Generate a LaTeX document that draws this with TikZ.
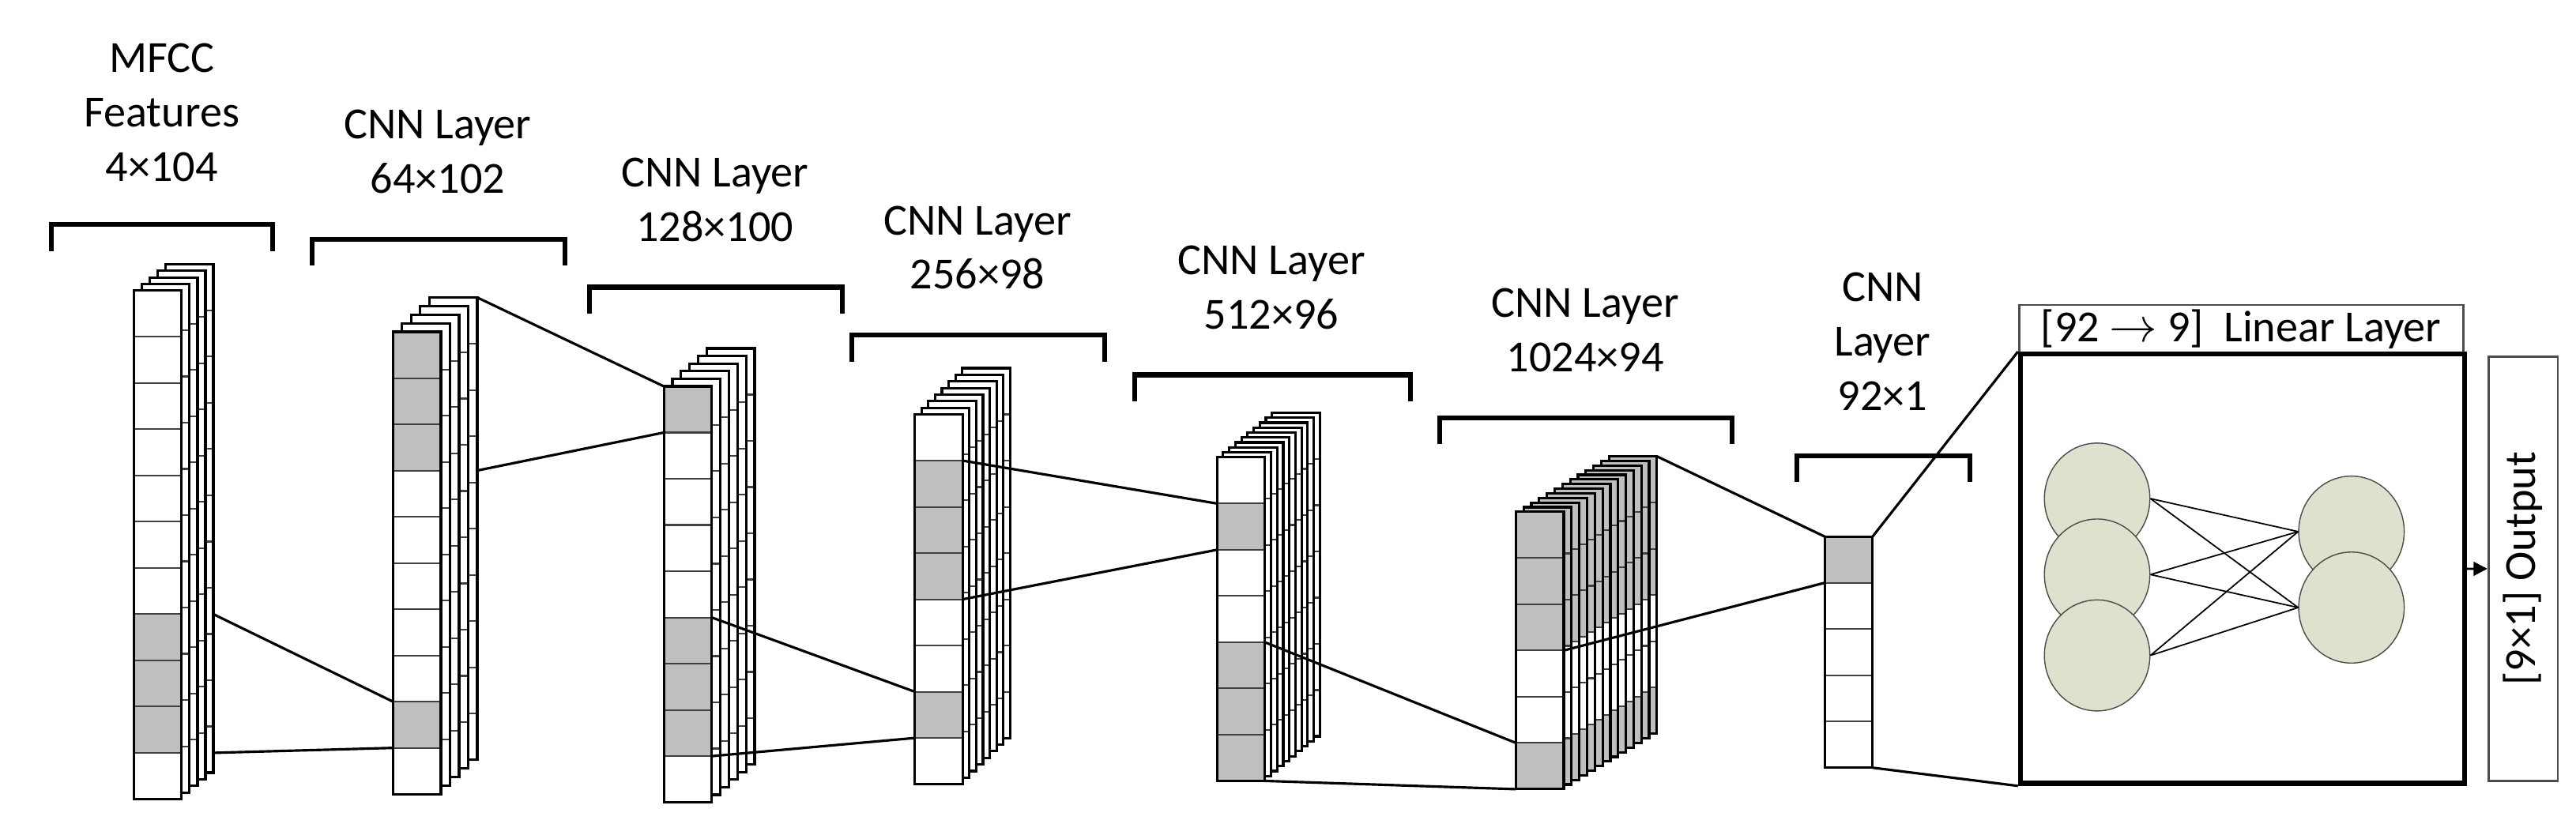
\documentclass[tikz,border=0pt]{standalone}
\usepackage{fontspec}
\setmainfont{Carlito}
\usetikzlibrary{arrows.meta}
\tikzset{
  lab/.style={align=center,font=\fontsize{16}{19.6}\selectfont,inner sep=0pt},
  brk/.style={line width=1.8pt},
  conn/.style={line width=0.9pt},
  sheet/.style={draw,line width=0.9pt},
  cellline/.style={draw=black!75,line width=0.6pt},
  neuron/.style={ellipse,draw=black!70,fill={rgb,255:red,221;green,225;blue,205},minimum width=38,minimum height=40,inner sep=0pt},
}
\usetikzlibrary{shapes.geometric}
% #1 name, #2 x, #3 ytop, #4 ncells, #5 nback, #6 dx, #7 dy, #8 gray list, #9 backgray
\newcommand\mylayer[9]{%
  \foreach \k in {#5,...,0}{%
    \pgfmathsetmacro\ox{#2+\k*#6}%
    \pgfmathsetmacro\oy{#3-\k*#7}%
    \pgfmathtruncatemacro\dogray{(\k==0)||(#9==1)}%
    \fill[white] (\ox,\oy) rectangle ++(29,#4*28);
    \ifnum\dogray=1
      \foreach \g in {#8}{\fill[gray!50] (\ox,\oy+\g*28-28) rectangle ++(29,28);}%
    \fi
    \foreach \i in {1,...,#4}{\draw[cellline] (\ox,\oy+\i*28) -- ++(29,0);}%
    \draw[sheet] (\ox,\oy) rectangle ++(29,#4*28);
  }%
  \pgfmathsetmacro\bx{#2+29+#5*#6}%
  \pgfmathsetmacro\by{#3-#5*#7}%
  \coordinate (#1-BT) at (\bx,\by);
  \foreach \i in {0,...,#4}{%
    \coordinate (#1-L\i) at (#2,#3+\i*28);
    \coordinate (#1-R\i) at (#2+29,#3+\i*28);
    \coordinate (#1-BR\i) at (\bx,#3+\i*28);
  }%
}
\newcommand\mybracket[4]{% name, x1, x2, y
  \draw[brk] (#2,#4+16) -- (#2,#4) -- (#3,#4) coordinate (#1) -- (#3,#4+16);}
\begin{document}
\begin{tikzpicture}[x=0.0209cm,y=-0.0209cm]
\useasboundingbox (0,0) rectangle (1560,499);
% labels
\node[lab] (t1) at (98,68) {MFCC\\Features\\4×104};
\node[lab] (t2) at (265,92) {CNN Layer\\64×102};
\node[lab] (t3) at (433,121) {CNN Layer\\128×100};
\node[lab] (t4) at (592,150) {CNN Layer\\256×98};
\node[lab] (t5) at (770,174) {CNN Layer\\512×96};
\node[lab] (t6) at (960,200) {CNN Layer\\1024×94};
\node[lab] (t7) at (1140,207) {CNN\\Layer\\92×1};
% brackets
\mybracket{b1}{31}{165}{136}
\mybracket{b2}{189}{342}{145}
\mybracket{b3}{357}{510}{174}
\mybracket{b4}{516}{669}{203}
\mybracket{b5}{687}{854}{227}
\mybracket{b6}{872}{1049}{253}
\mybracket{b7}{1088}{1193}{276}
% layers
\mylayer{A}{81}{176}{11}{4}{4.8}{4}{8,9,10}{0}
\mylayer{B}{238}{201}{10}{4}{5.5}{5.2}{1,2,3,9}{0}
\mylayer{C}{402}{234}{9}{5}{5.2}{4.6}{1,6,7,8}{0}
\mylayer{D}{554}{251}{8}{7}{4.1}{4}{2,3,4,7}{0}
\mylayer{E}{737}{277}{7}{9}{3.7}{3}{2,5,6,7}{0}
\mylayer{F}{918}{310}{6}{12}{4.7}{2.8}{1,2,3,6}{1}
\mylayer{G}{1105}{325}{5}{0}{0}{0}{1}{0}
% connectors between layers
\draw[conn] (A-BR7) -- (B-L8);
\draw[conn] (A-BR10) -- (B-L9);
\draw[conn] (B-BT) -- (C-L0);
\draw[conn] (B-BR3) -- (C-L1);
\draw[conn] (C-R5) -- (D-L6);
\draw[conn] (C-R8) -- (D-L7);
\draw[conn] (D-R1) -- (E-L1);
\draw[conn] (D-R4) -- (E-L2);
\draw[conn] (E-R4) -- (F-L5);
\draw[conn] (E-R7) -- (F-L6);
\draw[conn] (F-BT) -- (G-L0);
\draw[conn] (F-R3) -- (G-L1);
% linear layer
\node[draw=black!70,line width=0.8pt,minimum width=269*0.0209cm,minimum height=29*0.0209cm,anchor=north west,inner sep=0pt,font=\fontsize{16}{19.6}\selectfont] (title) at (1222,184) {[92 $\rightarrow$ 9]\ \ Linear Layer};
\node[draw,line width=1.8pt,minimum width=269*0.0209cm,minimum height=260*0.0209cm,anchor=north west,inner sep=0pt] (lin) at (1222,213) {};
\draw[conn] (G-R0) -- (lin.north west);
\draw[conn] (G-R5) -- (lin.south west);
\node[neuron] (i1) at (1270,302) {};
\node[neuron] (i2) at (1270,348) {};
\node[neuron] (i3) at (1270,397) {};
\node[neuron] (o1) at (1424,322) {};
\node[neuron] (o2) at (1424,368) {};
\foreach \a in {i1,i2,i3}\foreach \b in {o1,o2}\draw[line width=0.5pt] (\a.east) -- (\b.west);
\node[draw=black!70,line width=0.8pt,minimum width=257*0.0209cm,minimum height=42*0.0209cm,rotate=90,inner sep=0pt,font=\fontsize{16}{19.6}\selectfont] (out) at (1528,344.5) {[9×1] Output};
\draw[-{Triangle[length=5pt,width=5pt]},line width=0.8pt] (lin.east) -- (out.north);
\end{tikzpicture}
\end{document}
